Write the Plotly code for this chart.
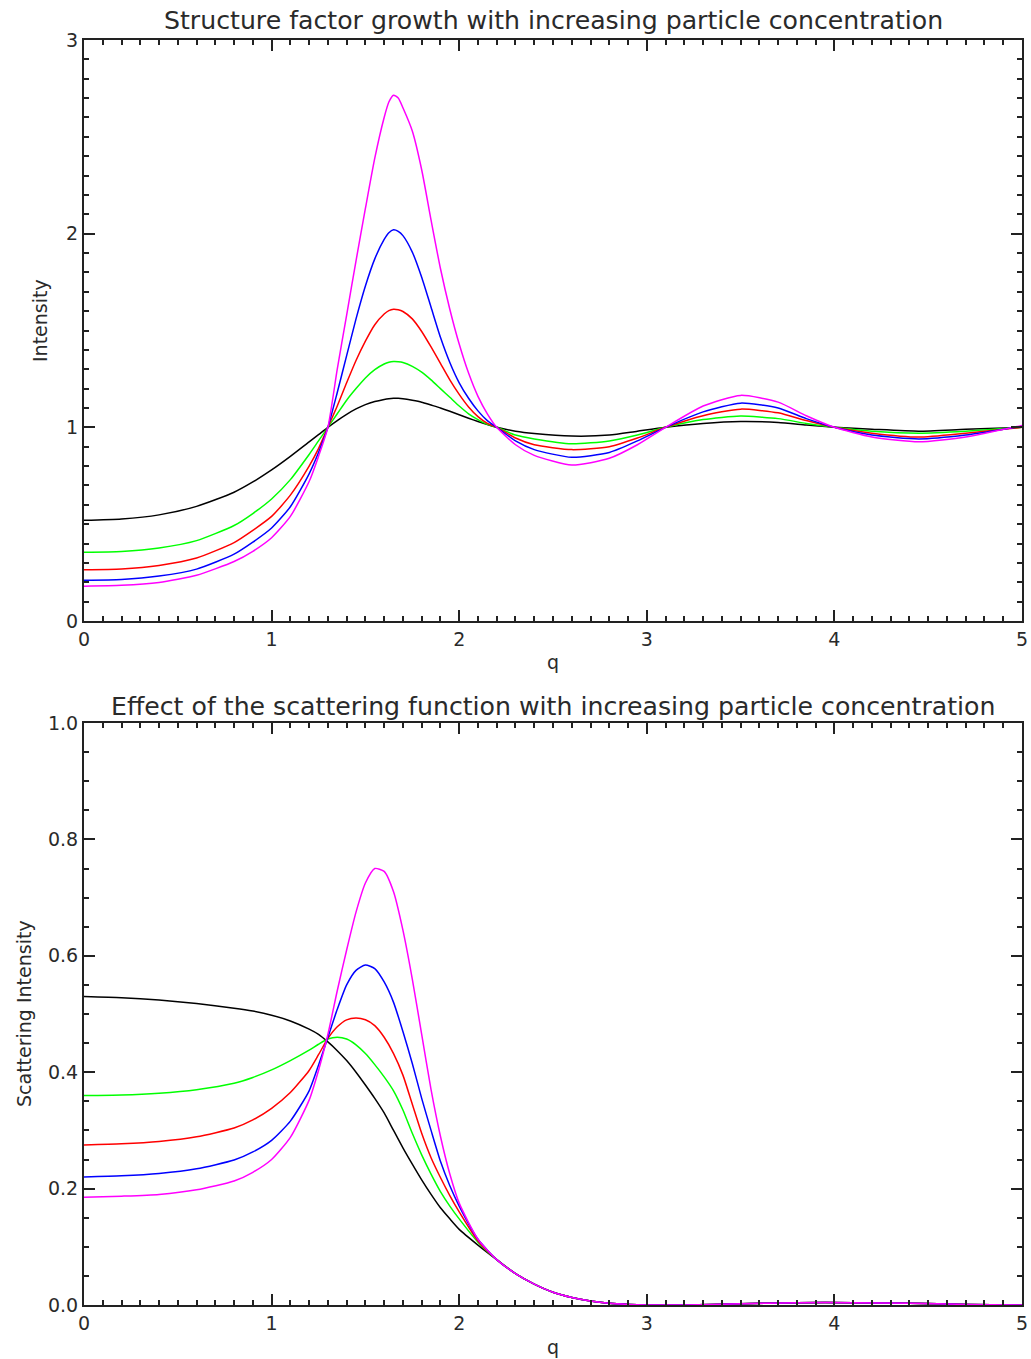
import plotly.graph_objects as go

# ---------------- data ----------------
q_top = [0, 0.2, 0.4, 0.6, 0.8, 0.9, 1.0, 1.1, 1.2, 1.25,
         1.3, 1.35, 1.4, 1.45, 1.5, 1.55, 1.6, 1.625, 1.65, 1.675, 1.7, 1.75, 1.8, 1.85, 1.9,
         1.95, 2.0, 2.05, 2.1, 2.15, 2.2,
         2.3, 2.4, 2.6, 2.8, 2.95, 3.1, 3.3, 3.5, 3.7, 3.85, 4.0, 4.2, 4.45, 4.7, 5.0]

s_black = [0.52, 0.527, 0.548, 0.592, 0.665, 0.718, 0.78, 0.85, 0.925, 0.962,
           1.0, 1.035, 1.067, 1.095, 1.117, 1.133, 1.144, 1.148, 1.15, 1.15, 1.148, 1.14, 1.13,
           1.115, 1.10, 1.083, 1.065, 1.047, 1.03, 1.014, 1.0,
           0.98, 0.968, 0.955, 0.96, 0.98, 1.0, 1.02, 1.03, 1.025, 1.012, 1.0, 0.99, 0.98, 0.99, 1.0]
s_green = [0.355, 0.359, 0.377, 0.415, 0.493, 0.555, 0.63, 0.73, 0.86, 0.93,
           1.0, 1.07, 1.14, 1.20, 1.255, 1.298, 1.327, 1.336, 1.34, 1.339, 1.335, 1.315, 1.285,
           1.245, 1.20, 1.155, 1.11, 1.07, 1.04, 1.015, 1.0,
           0.96, 0.94, 0.915, 0.93, 0.96, 1.0, 1.04, 1.058, 1.045, 1.02, 1.0, 0.98, 0.97, 0.98, 1.0]
s_red = [0.265, 0.269, 0.287, 0.325, 0.405, 0.468, 0.54, 0.65, 0.80, 0.89,
         1.0, 1.11, 1.23, 1.345, 1.445, 1.53, 1.585, 1.603, 1.61, 1.607, 1.598, 1.56, 1.495,
         1.415, 1.33, 1.245, 1.17, 1.105, 1.055, 1.02, 1.0,
         0.945, 0.91, 0.885, 0.90, 0.945, 1.0, 1.06, 1.094, 1.075, 1.035, 1.0, 0.97, 0.95, 0.97, 1.0]
s_blue = [0.21, 0.214, 0.232, 0.268, 0.345, 0.407, 0.48, 0.59, 0.76, 0.87,
          1.0, 1.18, 1.37, 1.56, 1.73, 1.87, 1.97, 2.005, 2.02, 2.012, 1.99, 1.905, 1.775,
          1.62, 1.465, 1.335, 1.23, 1.15, 1.085, 1.035, 1.0,
          0.93, 0.885, 0.845, 0.87, 0.93, 1.0, 1.08, 1.125, 1.10, 1.045, 1.0, 0.96, 0.94, 0.96, 1.005]
s_magenta = [0.18, 0.184, 0.199, 0.236, 0.307, 0.36, 0.43, 0.54, 0.72, 0.85,
             1.0, 1.30, 1.58, 1.86, 2.13, 2.39, 2.60, 2.68, 2.715, 2.70, 2.65, 2.53, 2.33,
             2.07, 1.82, 1.61, 1.43, 1.28, 1.16, 1.07, 1.0,
             0.91, 0.855, 0.805, 0.84, 0.91, 1.0, 1.11, 1.165, 1.13, 1.06, 1.0, 0.95, 0.925, 0.95, 1.01]

q_bot = [0, 0.2, 0.4, 0.6, 0.8, 0.9, 1.0, 1.1, 1.2, 1.25, 1.3, 1.35, 1.4, 1.45, 1.5, 1.55,
         1.6, 1.65, 1.7, 1.75, 1.8, 1.85, 1.9, 1.95, 2.0, 2.1, 2.2, 2.3, 2.4, 2.5, 2.6, 2.7,
         2.8, 2.9, 3.0, 3.2, 3.5, 3.8, 4.1, 4.4, 4.7, 5.0]

tail = [0.078, 0.054, 0.036, 0.022, 0.013, 0.007, 0.003, 0.001, 0.0, 0.0, 0.002, 0.004,
        0.004, 0.003, 0.001, 0.0]
i_black = [0.53, 0.528, 0.524, 0.518, 0.510, 0.505, 0.498, 0.488, 0.474, 0.465, 0.452, 0.437,
           0.42, 0.40, 0.378, 0.355, 0.33, 0.30, 0.27, 0.242, 0.215, 0.19, 0.167, 0.148, 0.13,
           0.103] + tail
i_green = [0.36, 0.361, 0.364, 0.370, 0.381, 0.391, 0.404, 0.42, 0.438, 0.448, 0.457, 0.46,
           0.457, 0.447, 0.432, 0.413, 0.392, 0.368, 0.335, 0.295, 0.258, 0.225, 0.195, 0.17,
           0.148, 0.108] + tail
i_red = [0.275, 0.277, 0.281, 0.289, 0.304, 0.318, 0.338, 0.365, 0.403, 0.43, 0.458, 0.478,
         0.49, 0.493, 0.49, 0.48, 0.46, 0.432, 0.395, 0.345, 0.295, 0.253, 0.219, 0.188, 0.16,
         0.11] + tail
i_blue = [0.22, 0.222, 0.226, 0.234, 0.249, 0.263, 0.283, 0.316, 0.368, 0.412, 0.46, 0.508,
          0.55, 0.575, 0.584, 0.578, 0.555, 0.52, 0.47, 0.415, 0.355, 0.30, 0.247, 0.205, 0.17,
          0.113] + tail
i_magenta = [0.185, 0.187, 0.19, 0.198, 0.213, 0.228, 0.25, 0.288, 0.352, 0.403, 0.465, 0.54,
             0.61, 0.675, 0.725, 0.75, 0.745, 0.71, 0.644, 0.56, 0.465, 0.37, 0.29, 0.225,
             0.175, 0.113] + tail

top_series = [s_black, s_green, s_red, s_blue, s_magenta]
bot_series = [i_black, i_green, i_red, i_blue, i_magenta]
colors = ["#000000", "#00ff00", "#ff0000", "#0000ff", "#ff00ff"]

top_title = "Structure factor growth with increasing particle concentration"
bot_title = "Effect of the scattering function with increasing particle concentration"

# ---------------- figure ----------------
W, H = 1031, 1359
fig = go.Figure()

for ys, c in zip(top_series, colors):
    fig.add_trace(go.Scatter(x=q_top, y=ys, mode="lines", xaxis="x", yaxis="y",
                             line=dict(color=c, width=1.5, shape="spline", smoothing=0.6),
                             showlegend=False, hoverinfo="skip"))
for ys, c in zip(bot_series, colors):
    fig.add_trace(go.Scatter(x=q_bot, y=ys, mode="lines", xaxis="x2", yaxis="y2",
                             line=dict(color=c, width=1.5, shape="spline", smoothing=0.6),
                             showlegend=False, hoverinfo="skip"))

px_l, px_r = 84, 1022
top_t, top_b = 40, 621
bot_t, bot_b = 723, 1305

FONT = "DejaVu Sans"
INK = "#222222"
TXT = "#2a2a2a"
tickfont = dict(family=FONT, size=19, color=TXT)

axis_common = dict(showgrid=False, zeroline=False, showline=True, linecolor=INK,
                   linewidth=2, mirror="ticks", ticks="inside", ticklen=11, tickwidth=2,
                   tickcolor=INK, tickfont=tickfont, automargin=False)
minor_common = dict(ticklen=5, tickwidth=1.5, ticks="inside", tickcolor=INK)


def xax(anchor):
    return dict(axis_common, range=[0, 5], dtick=1, tick0=0, anchor=anchor,
                domain=[px_l / W, px_r / W], minor=dict(minor_common, dtick=0.1))


fig.update_layout(
    width=W, height=H, margin=dict(l=0, r=0, t=0, b=0, autoexpand=False),
    paper_bgcolor="white", plot_bgcolor="white",
    xaxis=xax("y"),
    yaxis=dict(axis_common, range=[0, 3], dtick=1, tick0=0, anchor="x",
               domain=[(H - top_b) / H, (H - top_t) / H], minor=dict(minor_common, dtick=0.1)),
    xaxis2=xax("y2"),
    yaxis2=dict(axis_common, range=[0, 1], dtick=0.2, tick0=0, tickformat=".1f", anchor="x2",
                domain=[(H - bot_b) / H, (H - bot_t) / H], minor=dict(minor_common, dtick=0.05)),
)

ann_font = dict(family=FONT, size=25.2, color=TXT)
lab_font = dict(family=FONT, size=19, color=TXT)


def ann(text, x, y, font, angle=0):
    fig.add_annotation(text=text, x=x / W, y=1 - y / H, xref="paper",
                       yref="paper", showarrow=False, font=font, textangle=angle,
                       xanchor="center", yanchor="middle")


ann(top_title, 553, 20, ann_font)
ann(bot_title, 553, 706, ann_font)
ann("q", 553, 662, lab_font)
ann("q", 553, 1347, lab_font)
ann("Intensity", 40, 321, lab_font, -90)
ann("Scattering Intensity", 24, 1014, lab_font, -90)

fig.write_html("out.html")
